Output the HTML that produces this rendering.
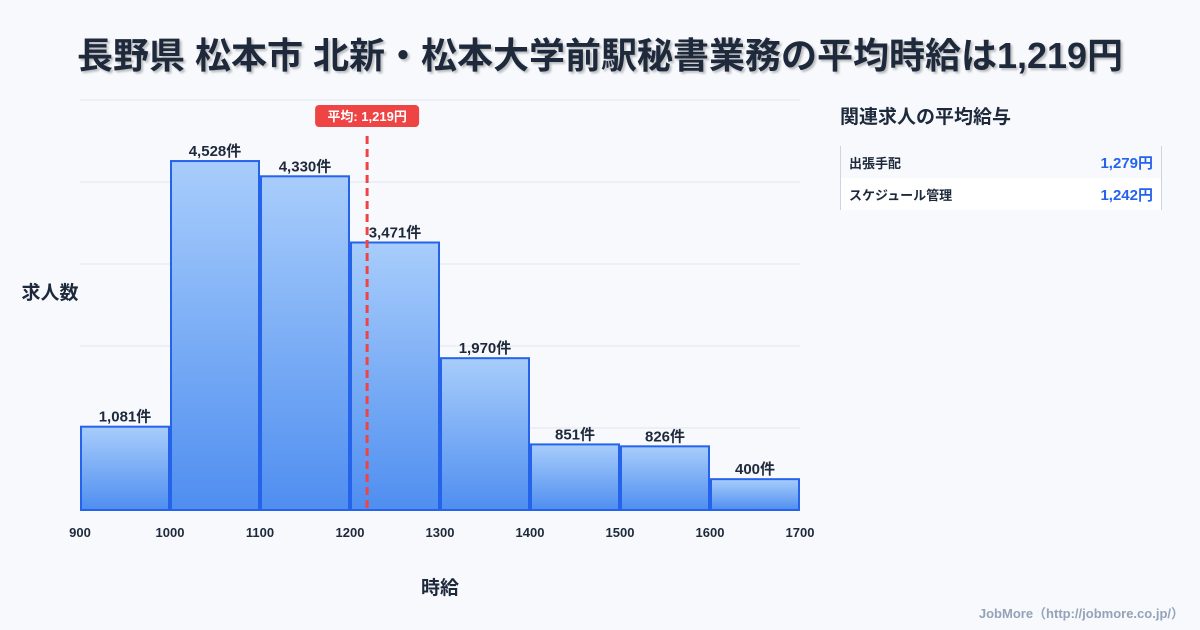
<!DOCTYPE html>
<html><head><meta charset="utf-8"><style>
body{margin:0;width:1200px;height:630px;background:#f7f9fc;font-family:"Liberation Sans","Noto Sans CJK JP",sans-serif;overflow:hidden;position:relative}
.title{position:absolute;left:0;top:27px;width:1200px;text-align:center;font-size:36px;font-weight:bold;color:#1e293b;text-shadow:2px 2px 2px rgba(0,0,0,0.25)}
.side{position:absolute;left:840px;top:102px}
.side h3{margin:0;font-size:19px;color:#1e293b;font-weight:bold}
.tbl{position:absolute;left:840px;top:146px;width:320px;border-left:1px solid #cbd5e1;border-right:1px solid #cbd5e1}
.row{height:32px;display:flex;justify-content:space-between;align-items:center;padding:0 8px;font-size:13px;font-weight:bold;color:#1e293b}
.row .v{color:#2563eb;font-size:15px}
.foot{position:absolute;right:16px;top:603px;font-size:13px;color:#94a3b8;font-weight:bold}
</style></head><body>
<div class="title">長野県 松本市 北新・松本大学前駅秘書業務の平均時給は1,219円</div>
<svg id="chart" width="820" height="630" style="position:absolute;left:0;top:0">
<defs><linearGradient id="g" x1="0" y1="0" x2="0" y2="1"><stop offset="0" stop-color="#a8cdfb"/><stop offset="1" stop-color="#4f8ef0"/></linearGradient></defs>
</svg>
<div class="side"><h3>関連求人の平均給与</h3></div>
<div class="tbl">
<div class="row" style="background:#f7f9fc"><span>出張手配</span><span class="v">1,279円</span></div>
<div class="row" style="background:#fff"><span>スケジュール管理</span><span class="v">1,242円</span></div>
</div>
<div class="foot">JobMore（http://jobmore.co.jp/）</div>
<script>
const binStarts=[900,1000,1100,1200,1300,1400,1500,1600];
const counts=[1081,4528,4330,3471,1970,851,826,400];
const labels=["1,081件","4,528件","4,330件","3,471件","1,970件","851件","826件","400件"];
const xTicks=[900,1000,1100,1200,1300,1400,1500,1600,1700];
const avgValue=1219;
const avgLabel="平均: 1,219円";
const svg=document.getElementById('chart');const NS="http://www.w3.org/2000/svg";
const x0=80,x1=800,yb=510,yt=100,xmin=900,xmax=1700,ymax=5320;
const X=v=>x0+(v-xmin)/(xmax-xmin)*(x1-x0);
const Y=v=>yb-v/ymax*(yb-yt);
function mk(t,a,txt){const e=document.createElementNS(NS,t);for(const k in a)e.setAttribute(k,a[k]);if(txt!=null)e.textContent=txt;svg.appendChild(e);return e;}
for(let i=0;i<6;i++){const y=yt+i*82;const l=mk('line',{x1:x0,x2:x1,y1:y,y2:y,stroke:'#e2e8f0','stroke-width':1});

}
binStarts.forEach((b,i)=>{const xa=X(b)+1,xb=X(b+100)-1,y=Y(counts[i]);
const r=mk('rect',{x:xa,y:y,width:xb-xa,height:yb-y,fill:'url(#g)',stroke:'#2563eb','stroke-width':2});


const t=mk('text',{x:(xa+xb)/2,y:y-5,'text-anchor':'middle','font-size':15,'font-weight':'bold',fill:'#1e293b'},labels[i]);

});
xTicks.forEach(v=>{const t=mk('text',{x:X(v),y:537,'text-anchor':'middle','font-size':13,'font-weight':'bold',fill:'#1e293b'},v);

});
const ax=X(avgValue);
const al=mk('line',{x1:ax,x2:ax,y1:136,y2:yb,stroke:'#ef4444','stroke-width':3,'stroke-dasharray':'8,5'});


const ab=mk('rect',{x:ax-52,y:105,width:104,height:22,rx:4,fill:'#ef4444'});


const at=mk('text',{x:ax,y:121,'text-anchor':'middle','font-size':13,'font-weight':'bold',fill:'#fff'},avgLabel);


const yl=mk('text',{x:50,y:299,'text-anchor':'middle','font-size':19,'font-weight':'bold',fill:'#1e293b'},'求人数');


const xl=mk('text',{x:440,y:594,'text-anchor':'middle','font-size':19,'font-weight':'bold',fill:'#1e293b'},'時給');


</script>
</body></html>
